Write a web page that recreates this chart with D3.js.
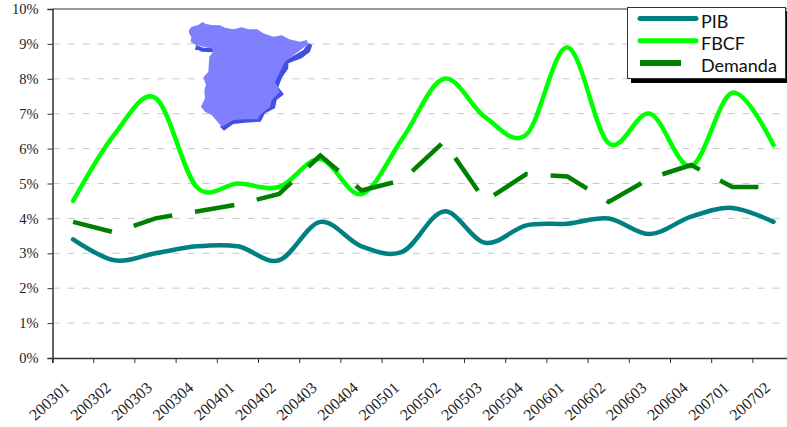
<!DOCTYPE html>
<html>
<head>
<meta charset="utf-8">
<script src="https://cdn.jsdelivr.net/npm/d3@7"></script>
<style>
html, body { margin: 0; padding: 0; background: #fff; overflow: hidden; }
svg { display: block; }
</style>
</head>
<body>
<div id="chart"></div>
<script>
var periods = ["200301","200302","200303","200304","200401","200402","200403","200404","200501","200502","200503","200504","200601","200602","200603","200604","200701","200702"];
var pib = [3.4,2.8,3.0,3.2,3.2,2.8,3.9,3.2,3.05,4.2,3.3,3.8,3.85,4.0,3.55,4.05,4.3,3.9];
var fbcf = [4.5,6.4,7.45,4.9,5.0,4.9,5.7,4.7,6.3,8.0,6.9,6.4,8.9,6.15,7.0,5.5,7.6,6.1];
var demanda = [3.9,3.6,4.0,4.2,4.4,4.7,5.8,4.8,5.1,6.2,4.5,5.27,5.2,4.47,5.15,5.53,4.9,4.9];
var yTicks = [0,1,2,3,4,5,6,7,8,9,10];

// outline of the little map, traced at 3x
var mapShape = [[57,90],[65,80],[85,75],[97,66],[108,72],[125,75],[150,76],[165,83],[190,88],[215,82],[235,88],[262,88],[280,100],[310,110],[335,106],[358,118],[390,125],[410,120],[415,132],[345,185],[330,215],[315,245],[325,265],[330,275],[305,300],[300,320],[270,345],[262,358],[225,358],[190,360],[165,375],[155,380],[125,345],[105,335],[93,320],[105,295],[103,270],[108,255],[100,232],[115,215],[118,170],[130,155],[125,145],[100,140],[78,135],[62,125],[64,110],[57,100]];
var mapShadow = [[415,130],[427,135],[420,155],[395,175],[355,190],[355,205],[335,235],[325,262],[342,283],[320,300],[315,325],[285,340],[272,365],[225,368],[190,372],[162,392],[150,380],[165,365],[225,350],[262,350],[295,320],[300,295],[325,270],[312,245],[340,185],[400,150]];
var mapShadowNorth = [[75,150],[78,135],[100,143],[130,143],[130,157],[95,155],[85,150]];

var width = 787, height = 427;
var margin = {top: 9, left: 52.5, bottom: 69};

var x = d3.scaleBand()
    .domain(periods)
    .range([margin.left, margin.left + 41.2 * periods.length]);

var y = d3.scaleLinear()
    .domain([0, 10])
    .range([height - margin.bottom, margin.top]);

var svg = d3.select("#chart").append("svg")
    .attr("width", width)
    .attr("height", height);

// grid
svg.append("g").selectAll("line")
    .data(yTicks.slice(1))
    .enter().append("line")
    .attr("x1", margin.left)
    .attr("x2", width)
    .attr("y1", function(d) { return y(d) })
    .attr("y2", function(d) { return y(d) })
    .attr("stroke", function(d) { return d == 10 ? "#999" : "#c8c8c8" })
    .attr("stroke-width", function(d) { return d == 10 ? 2 : 1 })
    .attr("stroke-dasharray", function(d) { return d == 10 ? null : "7,8" });

var yAxis = d3.axisLeft(y)
    .tickValues(yTicks)
    .tickFormat(function(d) { return d + "%" })
    .tickSize(5)
    .tickPadding(9);

var xAxis = d3.axisBottom(x)
    .tickSize(5)
    .tickPadding(10);

var gx = svg.append("g")
    .attr("transform", "translate(0," + y(0) + ")")
    .call(xAxis);

// ticks sit between the categories
gx.selectAll(".tick line").attr("x1", -20.6).attr("x2", -20.6);

gx.selectAll(".tick text")
    .attr("text-anchor", "end")
    .attr("transform", "translate(-6,27) rotate(-42)")
    .attr("dy", "0.35em")
    .attr("x", 0)
    .attr("y", 0)
    .attr("class", "xlabel");

var gy = svg.append("g")
    .attr("transform", "translate(" + margin.left + ",0)")
    .call(yAxis);

svg.selectAll(".domain").attr("stroke", "#333").attr("stroke-width", 1.5);
svg.selectAll(".tick line").attr("stroke", "#333").attr("stroke-width", 1);
svg.selectAll(".tick text")
    .attr("fill", "#222")
    .style("font-family", "'Liberation Serif', serif")
    .style("font-size", "14.5px");
svg.selectAll(".xlabel").style("font-size", "16px");

// map
var mapG = svg.append("g").attr("transform", "translate(170,0) scale(0.3333)");
var mapPath = d3.line().curve(d3.curveLinearClosed);
mapG.append("path").attr("d", mapPath(mapShadow)).attr("fill", "#4050e0");
mapG.append("path").attr("d", mapPath(mapShadowNorth)).attr("fill", "#4050e0");
mapG.append("path").attr("d", mapPath(mapShape)).attr("fill", "#8080ff");

// series
var seriesX = function(d, i) { return x(periods[i]) + x.bandwidth() / 2 };

var smooth = d3.line()
    .x(seriesX)
    .y(function(d) { return y(d) })
    .curve(d3.curveCardinal.tension(0));

var straight = d3.line()
    .x(seriesX)
    .y(function(d) { return y(d) });

svg.append("path")
    .attr("d", smooth(fbcf))
    .attr("fill", "none")
    .attr("stroke", "#00ff00")
    .attr("stroke-width", 4.5)
    .attr("stroke-linecap", "round");

svg.append("path")
    .attr("d", straight(demanda))
    .attr("fill", "none")
    .attr("stroke", "#008000")
    .attr("stroke-width", 4.5)
    .attr("stroke-dasharray", "40,23");

svg.append("path")
    .attr("d", smooth(pib))
    .attr("fill", "none")
    .attr("stroke", "#008080")
    .attr("stroke-width", 4.5)
    .attr("stroke-linecap", "round");

// legend
var legendNames = ["PIB", "FBCF", "Demanda"];
var legendColors = ["#008080", "#00ff00", "#008000"];
var legend = svg.append("g");
legend.append("rect").attr("x", 631).attr("y", 11).attr("width", 156).attr("height", 72).attr("fill", "#000");
legend.append("rect").attr("x", 627.5).attr("y", 7.5).attr("width", 158).attr("height", 71).attr("fill", "#fff").attr("stroke", "#333");
legendNames.forEach(function(name, i) {
    var ly = 18.5 + i * 22.2;
    legend.append("line")
        .attr("x1", i == 2 ? 640 : 640)
        .attr("x2", i == 2 ? 681 : 696)
        .attr("y1", ly).attr("y2", ly)
        .attr("stroke", legendColors[i])
        .attr("stroke-width", i == 2 ? 6 : 5)
        .attr("stroke-linecap", i == 2 ? "butt" : "round");
    legend.append("text")
        .attr("x", 701)
        .attr("y", ly + 9)
        .text(name)
        .style("font-family", "Lato, sans-serif")
        .style("font-size", "18px")
        .attr("fill", "#111");
});
</script>
</body>
</html>
